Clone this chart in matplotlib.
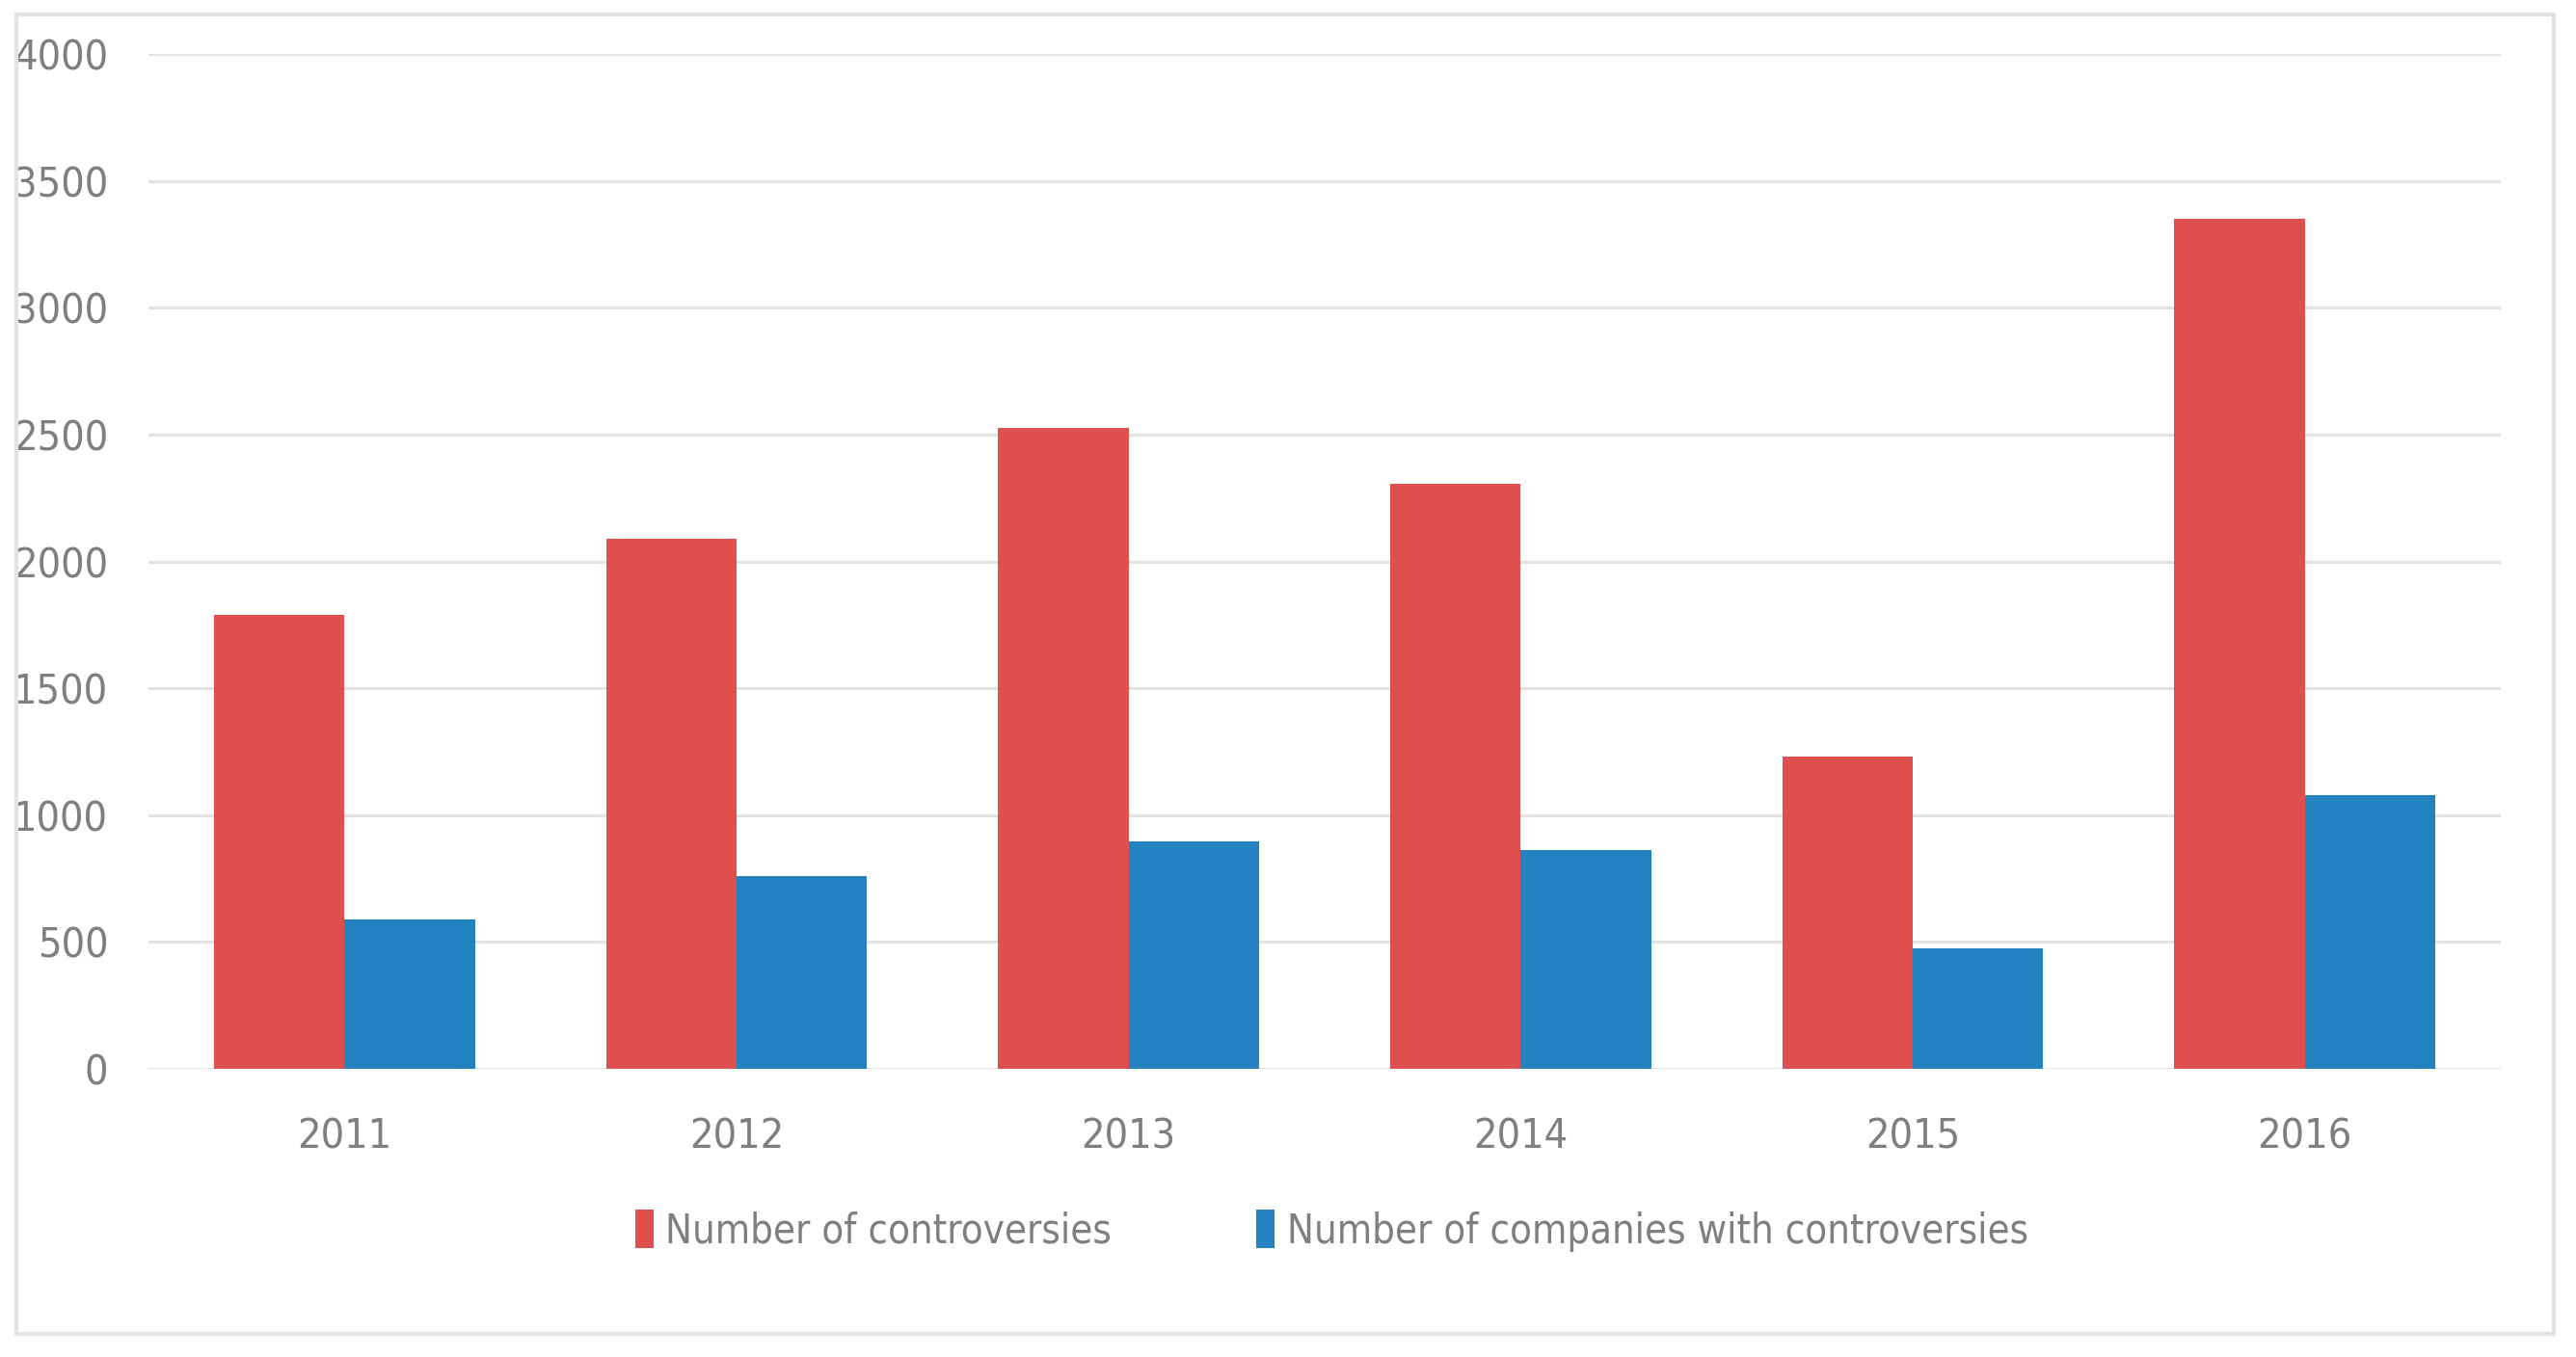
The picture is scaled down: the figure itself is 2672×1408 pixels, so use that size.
import matplotlib
matplotlib.use("Agg")
import matplotlib.pyplot as plt
from matplotlib.patches import Rectangle
import numpy as np

years = ["2011", "2012", "2013", "2014", "2015", "2016"]
controversies = [1790, 2090, 2525, 2305, 1230, 3350]
companies = [590, 760, 895, 862, 475, 1078]
labels = ["Number of controversies", "Number of companies with controversies"]
yticks = [0, 500, 1000, 1500, 2000, 2500, 3000, 3500, 4000]

red = "#DE4F4D"
blue = "#2383C1"
grey = "#7F7F7F"

plt.rcParams['font.family'] = ['DejaVu Sans']
plt.rcParams['font.stretch'] = 'condensed'

fig = plt.figure(figsize=(26.72, 14.08), dpi=100)
ax = fig.add_axes([0.0576, 0.2124, 0.9132, 0.7476])

x = np.arange(len(years))
w = 0.333
ax.bar(x - w / 2, controversies, w, color=red, label=labels[0], zorder=3)
ax.bar(x + w / 2, companies, w, color=blue, label=labels[1], zorder=3)

ax.set_xlim(-0.5, len(years) - 0.5)
ax.set_ylim(0, 4000)
ax.set_yticks(yticks)
ax.set_xticks(x)
ax.set_xticklabels(years)
ax.grid(axis="y", color="#E2E2E2", linewidth=2.2, zorder=0)
for s in ax.spines.values():
    s.set_visible(False)
ax.tick_params(length=0, labelsize=31, colors=grey)
ax.tick_params(axis="y", pad=30)
ax.tick_params(axis="x", pad=36)

leg = fig.legend(loc="center", bbox_to_anchor=(0.517, 0.093), ncol=2, frameon=False,
                 fontsize=30, handlelength=0.45, handleheight=1.1, handletextpad=0.3,
                 columnspacing=3.6)
for t in leg.get_texts():
    t.set_color(grey)

fig.patches.append(Rectangle((17 / 2672, 1 - 1384 / 1408), 2632 / 2672, 1369 / 1408,
                             transform=fig.transFigure, fill=False,
                             edgecolor="#E2E2E2", linewidth=3))

fig.savefig("out.png", dpi=100)
